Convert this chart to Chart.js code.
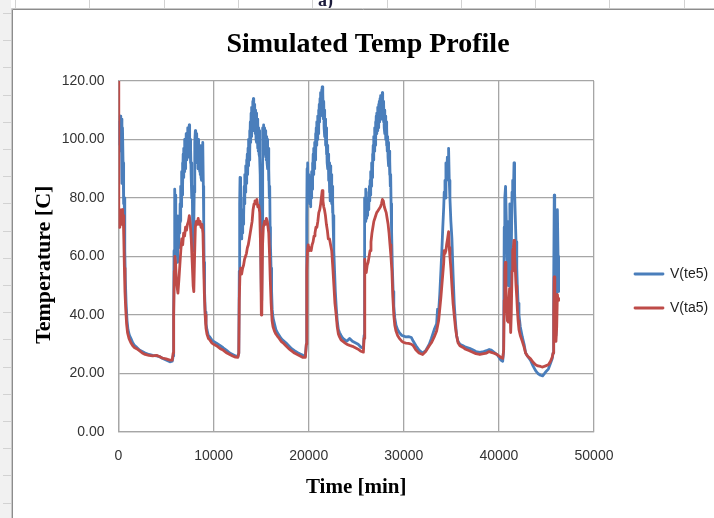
<!DOCTYPE html>
<html><head><meta charset="utf-8">
<script src="https://cdn.jsdelivr.net/npm/chart.js@4.4.0/dist/chart.umd.min.js"></script>
<style>html,body{margin:0;padding:0;background:#fff;}canvas{display:block;}</style>
</head><body>
<canvas id="c" width="714" height="518"></canvas>
<script>
const chartTitle = 'Simulated Temp Profile';
const xAxisTitle = 'Time [min]';
const yAxisTitle = 'Temperature [C]   ';
const seriesNames = ['V(te5)', 'V(ta5)'];
const xTicks = [0, 10000, 20000, 30000, 40000, 50000];
const yTicks = [0, 20, 40, 60, 80, 100, 120];

// [time (min), temperature (C)]
const te5 = [
[0,98],[60,106],[120,100],[180,108],[240,96],[300,107],[360,85],[420,104],[480,92],[540,78],[600,80],[660,62],[720,52],[800,44],[900,38],[1000,35],[1150,33],[1300,32],[1500,30.5],[1700,29.5],[1900,29],[2200,28],[2500,27.5],[2800,27],[3200,26.5],[3600,26.2],[4000,26],[4300,25.8],[4600,25.2],[5000,24.6],[5400,24],[5650,24.2],[5750,26],
[5800,40],[5840,62],[5880,80],[5910,72],[5940,83],[5970,76],[6000,81],[6040,68],[6080,74],[6120,60],[6160,66],[6200,58],[6240,68],[6280,63],[6320,72],[6360,66],[6400,74],[6440,68],[6480,78],[6520,72],[6560,84],[6600,77],[6640,89],[6680,81],[6720,92],[6760,84],[6800,95],[6840,87],[6880,97],[6920,89],[6960,100],[7000,90],[7040,99],[7080,92],[7120,102],[7160,93],[7200,100],[7240,95],[7280,104],[7320,94],[7360,101],[7400,96],[7440,105],[7480,95],[7520,100],[7560,92],[7600,97],[7640,88],[7680,92],[7720,80],[7760,84],[7800,68],[7840,72],[7880,62],[7920,66],[7960,82],[8000,92],[8040,99],[8080,103],[8120,94],[8160,101],[8200,93],[8240,102],[8280,92],[8320,99],[8360,90],[8400,100],[8440,91],[8480,98],[8520,89],[8560,97],[8600,88],[8640,96],[8680,87],[8720,95],[8760,86],[8800,98],[8840,88],[8880,99],[8920,84],[8960,72],[9000,58],[9050,48],[9120,41],[9200,37],[9300,35],[9450,33],[9600,32.5],[9800,31.5],[10000,31],[10300,30.4],[10700,29.5],[11000,28.8],[11400,27.8],[11700,27],[12000,26.5],[12300,26],[12550,25.8],[12650,27],
[12700,55],[12740,78],[12780,87],[12820,80],[12860,70],[12900,74],[12940,66],[12980,72],[13020,68],[13060,76],[13100,71],[13140,80],[13180,74],[13220,84],[13260,78],[13300,88],[13340,82],[13380,91],[13420,85],[13460,93],[13500,87],[13540,95],[13580,88],[13620,97],[13660,91],[13700,100],[13740,93],[13780,103],[13820,96],[13860,106],[13900,99],[13940,109],[13980,101],[14020,111],[14060,103],[14100,113],[14140,104],[14180,114],[14220,106],[14260,112],[14300,103],[14340,111],[14380,102],[14420,110],[14460,100],[14500,109],[14540,99],[14580,107],[14620,97],[14660,106],[14700,96],[14740,104],[14780,95],[14820,103],[14860,94],[14900,88],[14940,76],[14980,62],[15020,48],[15060,45],[15100,70],[15140,92],[15180,104],[15220,97],[15260,105],[15300,96],[15340,104],[15380,95],[15420,103],[15460,94],[15500,102],[15540,93],[15580,101],[15620,92],[15660,100],[15700,90],[15740,97],[15780,86],[15820,90],[15860,80],[15900,84],[15940,70],[15980,64],[16040,56],[16100,48],[16160,42],[16250,39],[16400,37],[16550,35],[16700,34],[16900,33],[17100,32],[17300,31.3],[17600,30.5],[17900,29.5],[18200,28.5],[18500,27.8],[18800,27.2],[19100,26.7],[19400,26.2],[19650,26],[19750,30],
[19790,72],[19830,90],[19870,84],[19910,92],[19950,80],[19990,88],[20030,79],[20070,87],[20110,78],[20150,85],[20190,77],[20230,86],[20270,80],[20310,89],[20350,83],[20390,92],[20430,86],[20470,95],[20510,88],[20550,97],[20590,90],[20630,99],[20670,93],[20710,102],[20750,95],[20790,104],[20830,98],[20870,106],[20910,100],[20950,108],[20990,102],[21030,110],[21070,104],[21110,112],[21150,106],[21190,114],[21230,108],[21270,116],[21310,110],[21350,117],[21390,111],[21420,118],[21460,110],[21500,116],[21540,107],[21580,113],[21620,104],[21660,110],[21700,101],[21740,107],[21780,98],[21820,104],[21860,95],[21900,101],[21940,92],[21980,98],[22020,90],[22060,95],[22100,86],[22140,92],[22180,82],[22220,88],[22260,79],[22300,91],[22340,82],[22380,88],[22420,78],[22460,84],[22500,75],[22540,79],[22580,70],[22620,74],[22660,62],[22720,55],[22800,48],[22890,43],[23000,38],[23120,35],[23240,34],[23400,33],[23600,32],[23800,31.5],[24000,31],[24300,32],[24600,31],[24900,30.5],[25200,30],[25500,29],[25750,28.6],[25820,33],
[25860,62],[25900,80],[25940,76],[25980,83],[26020,72],[26060,78],[26100,73],[26140,79],[26180,74],[26220,80],[26260,76],[26300,82],[26340,77],[26380,84],[26420,79],[26460,86],[26500,81],[26540,89],[26580,84],[26620,92],[26660,87],[26700,95],[26740,90],[26780,98],[26820,93],[26860,101],[26900,96],[26940,104],[26980,98],[27020,106],[27060,100],[27100,108],[27140,102],[27180,109],[27220,103],[27260,111],[27300,104],[27340,112],[27380,105],[27420,113],[27460,106],[27500,114],[27540,107],[27580,115],[27620,108],[27660,114],[27700,107],[27740,116],[27780,108],[27820,113],[27860,106],[27900,112],[27940,104],[27980,110],[28020,102],[28060,108],[28100,100],[28140,106],[28180,98],[28220,104],[28260,96],[28300,101],[28340,94],[28380,99],[28420,91],[28460,96],[28500,88],[28540,93],[28580,84],[28620,88],[28660,78],[28720,68],[28800,56],[28880,48],[28950,43],[29050,39],[29180,36.5],[29350,35],[29530,34],[29800,33],[30000,32.8],[30230,32.5],[30500,32.6],[30800,32.3],[31000,31],[31280,29.5],[31600,28],[31980,27],[32300,27.8],[32680,30],[32900,32],[33200,35],[33450,37],[33550,42],[33660,41],[33780,47],[33900,55],[34000,62],[34100,70],[34200,77],[34250,82],[34330,86],[34380,80],[34430,92],[34500,86],[34580,94],[34650,88],[34710,97],[34780,86],[34850,80],[34950,72],[35060,66],[35180,54],[35300,44],[35420,38],[35550,33],[35700,31],[35900,30],[36180,29.6],[36500,29],[36900,28.6],[37300,28],[37580,27.5],[38000,27.2],[38400,27.5],[38700,27.8],[38980,28.2],[39200,28],[39400,27.5],[39600,27],[39800,26.5],[40000,25.6],[40200,24.6],[40400,24.2],[40500,28],
[40560,70],[40620,80],[40700,84],[40780,72],[40850,60],[40920,55],[41000,50],[41080,72],[41150,78],[41240,48],[41300,60],[41380,82],[41450,86],[41520,80],[41590,92],[41650,82],[41720,74],[41800,65],[41880,56],[41940,50],[42020,44],[42110,40],[42250,36],[42460,32.5],[42650,30],[42810,27],[43000,26],[43330,24.5],[43600,22.5],[43860,21],[44100,20],[44380,19.4],[44600,19.2],[44910,20.5],[45200,21.5],[45430,23.5],[45600,25],[45700,27],
[45760,50],[45820,81],[45870,72],[45930,38],[46000,33],[46080,50],[46150,76],[46220,60],[46280,48]
];

const ta5 = [
[0,120],[30,72],[80,70],[140,76],[200,73],[260,75],[320,71],[380,76],[440,72],[500,74],[560,66],[620,56],[680,48],[760,42],[850,37],[950,34],[1100,32],[1300,30.5],[1500,29.5],[1700,28.8],[1900,28.5],[2200,27.8],[2500,27],[2800,26.5],[3200,26.2],[3600,26],[4000,26.2],[4300,25.8],[4600,25.3],[5000,25],[5400,24.6],[5650,24.6],[5750,27],
[5800,40],[5870,55],[5930,60],[6000,58],[6080,52],[6150,50],[6250,47.5],[6350,52],[6450,57],[6550,62],[6650,66],[6750,64],[6850,68],[6950,67],[7050,70],[7150,69],[7250,71],[7350,72],[7450,74],[7550,71],[7650,66],[7750,58],[7850,50],[7920,48],[8000,60],[8080,70],[8180,72],[8280,71],[8380,73],[8480,71],[8580,72],[8680,70],[8780,71],[8880,68],[8950,58],[9030,47],[9110,40],[9200,35.5],[9300,33.5],[9450,32],[9600,31.5],[9800,30.5],[10000,30],[10300,29.5],[10700,28.5],[11000,28],[11400,27],[11700,26.5],[12000,26],[12300,25.6],[12550,25.5],[12650,27],
[12700,45],[12780,55],[12850,56],[12950,54],[13050,56],[13150,57],[13250,59],[13350,60],[13450,61],[13550,63],[13650,64],[13750,66],[13850,68],[13950,70],[14050,72],[14150,76],[14250,78],[14350,79],[14450,78],[14550,79.5],[14650,77],[14750,77.5],[14850,75],[14950,62],[15020,40],[15070,42],[15150,64],[15230,70],[15350,72],[15450,71],[15550,73],[15650,72],[15720,72],[15800,68],[15880,61],[15960,52],[16050,44],[16150,38],[16250,36],[16400,34.5],[16550,33.5],[16700,32.8],[16900,32],[17100,31],[17300,30.5],[17600,29.5],[17900,28.5],[18200,27.7],[18500,27],[18800,26.5],[19100,26],[19400,25.5],[19650,25.5],[19750,30],
[19800,55],[19870,62],[19950,64],[20050,62],[20150,63],[20260,62],[20360,64],[20460,65],[20560,67],[20660,68],[20760,70],[20860,70],[20960,72],[21060,75],[21160,76],[21260,78],[21330,80],[21420,82.5],[21500,79],[21580,77],[21660,76],[21760,74],[21860,71],[21960,69],[22060,66],[22190,66],[22300,64],[22420,62],[22540,56],[22650,50],[22760,44],[22890,40],[23000,36],[23120,33.5],[23240,32.5],[23400,31.5],[23600,31],[23800,30.5],[24000,30],[24300,29.6],[24600,29.3],[24900,28.8],[25200,28.3],[25500,27.6],[25750,27.3],[25820,32],
[25870,52],[25920,59],[25980,55],[26050,54.5],[26150,57],[26250,58],[26350,60],[26450,62],[26550,65],[26650,68],[26750,70],[26850,72],[26950,73],[27050,74],[27150,75],[27250,75.5],[27350,76],[27450,76.5],[27550,77],[27650,78],[27750,79.5],[27850,79],[27950,77],[28050,76],[28150,75],[28250,73],[28350,71],[28450,68],[28550,64],[28650,60],[28750,55],[28850,46],[28950,40],[29050,36.5],[29180,34.5],[29350,33],[29530,32],[29800,31],[30000,30.6],[30230,30.4],[30500,30.3],[30800,30],[31000,29.5],[31280,28],[31600,27],[31980,26.5],[32300,27.5],[32680,29.5],[32900,30.5],[33200,32.5],[33450,34.5],[33660,38],[33780,42],[33900,46],[34000,50],[34100,54],[34200,58],[34250,62],[34330,61],[34430,62],[34500,64],[34600,66],[34710,68.5],[34780,63],[34850,60],[34950,56],[35060,50],[35180,44],[35300,40],[35420,36],[35550,33],[35700,30.5],[35900,29.5],[36180,29],[36500,28.3],[36900,27.8],[37300,27.2],[37580,26.8],[38000,26.5],[38400,26.8],[38700,27],[38980,27.5],[39200,27.2],[39400,27],[39600,26.8],[39800,26.5],[40000,26],[40200,25.5],[40400,25.2],[40500,28],
[40560,45],[40620,55],[40680,58],[40740,50],[40820,42],[40900,38],[41000,37.6],[41060,45],[41120,49],[41180,42],[41240,34],[41300,40],[41380,55],[41450,62],[41520,63],[41590,65.5],[41650,60],[41720,56],[41800,50],[41880,46],[41940,42],[42020,38],[42110,35],[42250,33],[42460,31],[42650,29],[42810,27],[43000,26],[43330,25],[43600,23.8],[43860,23],[44100,22.6],[44380,22.4],[44600,22.2],[44910,22.6],[45200,23],[45430,24.2],[45600,25.5],[45700,27],
[45760,40],[45820,53],[45880,45],[45940,33],[46000,31],[46080,36],[46150,47],[46220,45],[46280,46]
];

const backdrop = {
  id: 'backdrop',
  beforeDraw(chart) {
    const ctx = chart.ctx, W = chart.width, H = chart.height;
    ctx.save();
    ctx.fillStyle = '#ffffff'; ctx.fillRect(0, 0, W, H);
    ctx.fillStyle = '#f1f1f1'; ctx.fillRect(0, 0, 11, H);
    ctx.lineWidth = 1; ctx.strokeStyle = '#d2d2d2';
    for (let y = 13; y < H; y += 27.2) {
      const yy = Math.round(y) + 0.5;
      ctx.beginPath(); ctx.moveTo(3, yy); ctx.lineTo(11, yy); ctx.stroke();
    }
    for (let x = 15; x < W; x += 74.3) {
      const xx = Math.round(x) + 0.5;
      ctx.beginPath(); ctx.moveTo(xx, 0); ctx.lineTo(xx, 8); ctx.stroke();
    }
    ctx.fillStyle = '#1c1c3c';
    ctx.font = 'bold 18px "Liberation Serif"';
    ctx.textBaseline = 'alphabetic';
    ctx.fillText('a)', 318, 6);
    ctx.strokeStyle = '#c9c9c9';
    ctx.beginPath(); ctx.moveTo(11.5, H); ctx.lineTo(11.5, 8.5); ctx.lineTo(W, 8.5); ctx.stroke();
    ctx.strokeStyle = '#8c8c8c';
    ctx.beginPath(); ctx.moveTo(12.5, H); ctx.lineTo(12.5, 9.5); ctx.lineTo(W, 9.5); ctx.stroke();
    ctx.restore();
  }
};

const gridColor = '#a6a6a6';
const tickFont = { family: 'Liberation Sans', size: 14 };
const axisTitleFont = { family: 'Liberation Serif', size: 21, weight: 'bold', lineHeight: 1.2 };

new Chart(document.getElementById('c'), {
  type: 'line',
  data: {
    datasets: [
      { label: seriesNames[0], data: te5.map(p => ({ x: p[0], y: p[1] })), borderColor: '#4a7ebb', backgroundColor: '#4a7ebb', borderWidth: 2.8, pointRadius: 0, tension: 0, borderJoinStyle: 'round', order: 1, yAxisID: 'y' },
      { label: seriesNames[1], data: ta5.map(p => ({ x: p[0], y: p[1] })), borderColor: '#be4b48', backgroundColor: '#be4b48', borderWidth: 2.8, pointRadius: 0, tension: 0, borderJoinStyle: 'round', order: 0, yAxisID: 'y' }
    ]
  },
  options: {
    responsive: false, animation: false, devicePixelRatio: 1,
    layout: { padding: { left: 22, top: 0, right: 0, bottom: 0 } },
    plugins: {
      title: { display: true, text: chartTitle, color: '#000', font: { family: 'Liberation Serif', size: 28, weight: 'bold', lineHeight: 1.2 }, padding: { top: 28, bottom: 19.4 } },
      legend: {
        position: 'right', fullSize: false, reverse: true, maxWidth: 99,
        title: { display: true, text: ' ', font: { size: 1, lineHeight: 1 }, padding: { top: 34, bottom: 34 } },
        labels: { boxWidth: 28, boxHeight: 0, padding: 20, color: '#1e1e1e', font: { family: 'Liberation Sans', size: 14 } }
      },
      tooltip: { enabled: false }
    },
    scales: {
      x: {
        type: 'linear', position: 'bottom', min: xTicks[0], max: xTicks[xTicks.length - 1],
        afterBuildTicks: s => { s.ticks = xTicks.map(v => ({ value: v })); },
        afterFit: s => { s.height = 86; },
        ticks: { callback: v => String(v), color: '#333', font: tickFont, padding: 16, maxRotation: 0, autoSkip: false },
        grid: { color: gridColor, lineWidth: 1.3, drawTicks: false },
        border: { color: gridColor, width: 1.3 },
        title: { display: true, text: xAxisTitle, color: '#000', font: axisTitleFont, padding: { top: 0, bottom: 18 } }
      },
      y: {
        type: 'linear', position: 'left', min: yTicks[0], max: yTicks[yTicks.length - 1],
        afterBuildTicks: s => { s.ticks = yTicks.map(v => ({ value: v })); },
        afterFit: s => { s.width = 96.5; },
        ticks: { callback: v => Number(v).toFixed(2), color: '#333', font: tickFont, padding: 14, autoSkip: false },
        grid: { color: gridColor, lineWidth: 1.3, drawTicks: false },
        border: { color: gridColor, width: 1.3 },
        title: { display: true, text: yAxisTitle, color: '#000', font: { family: 'Liberation Serif', size: 22, weight: 'bold', lineHeight: 1.2 }, padding: { top: 9.5, bottom: 0 } }
      },
      yR: {
        type: 'linear', position: 'right', min: 0, max: 1,
        afterFit: s => { s.width = 21; },
        ticks: { display: false }, grid: { display: false, drawTicks: false }, border: { display: false }
      }
    }
  },
  plugins: [backdrop]
});
</script>
</body></html>
